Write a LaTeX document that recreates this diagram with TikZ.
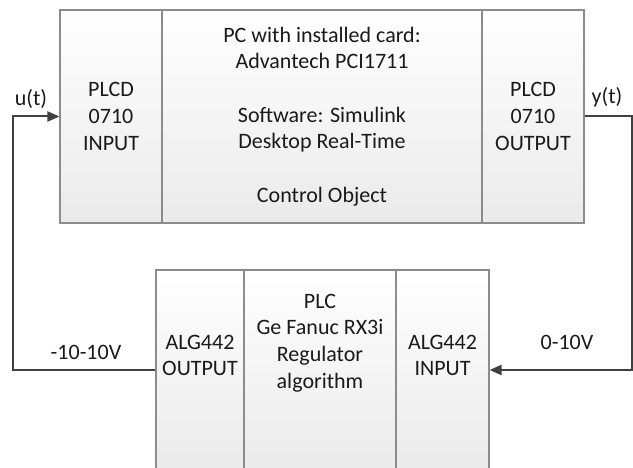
\documentclass[tikz,border=0pt]{standalone}
\usepackage{fontspec}
\setmainfont{Carlito}
\usetikzlibrary{arrows.meta}
\definecolor{boxgray}{HTML}{8C8C8C}
\definecolor{linegray}{HTML}{404040}
\definecolor{txt}{HTML}{1A1A1A}
\begin{document}
\begin{tikzpicture}[x=1pt,y=-1pt,
  blk/.style={draw=boxgray, line width=1.1pt, top color=white, bottom color=black!8,
    inner sep=0pt, align=center, text=txt, font=\fontsize{22}{26.7}\selectfont},
  lbl/.style={inner sep=0pt, align=center, text=txt, font=\fontsize{22}{26.7}\selectfont},
  conn/.style={draw=linegray, line width=2pt},
  tip/.style={-{Triangle[length=12pt,width=10pt]}}
]
\useasboundingbox (0,0) rectangle (633,468);
\clip (0,0) rectangle (633,468);
% top group
\node[blk, minimum width=102, minimum height=213] (inL) at (111,116.5) {PLCD\\0710\\INPUT};
\node[blk, minimum width=320, minimum height=213] (pc) at (322,116.5)
  {PC with installed card:\\Advantech PCI1711\\[26.7pt]Software: Simulink\\Desktop Real-Time\\[26.7pt]Control Object};
\node[blk, minimum width=102, minimum height=213] (outR) at (533,116.5) {PLCD\\0710\\OUTPUT};
% bottom group
\node[blk, minimum width=88, minimum height=200] (aout) at (200,370) {};
\node[blk, minimum width=152, minimum height=200] (plc) at (320,370) {};
\node[blk, minimum width=93, minimum height=200] (ain) at (442.5,370) {};
\node[lbl] (aoutT) at (200,355.5) {ALG442\\OUTPUT};
\node[lbl] (plcT) at (320,343) {PLC\\Ge Fanuc RX3i\\Regulator\\algorithm};
\node[lbl] (ainT) at (442.5,355.5) {ALG442\\INPUT};
% connectors
\coordinate (lb) at (13,370);
\coordinate (lt) at (13,116.5);
\coordinate (rt) at (631.5,116.5);
\coordinate (rb) at (631.5,370);
\draw[conn,tip] (aout.west) -- (lb) -- (lt) -- (inL.west);
\draw[conn,tip] (outR.east) -- (rt) -- (rb) -- (ain.east);
% labels
\node[lbl] (ut) at (31,99) {u(t)};
\node[lbl] (yt) at (607,97) {y(t)};
\node[lbl] (vneg) at (86,352) {-10-10V};
\node[lbl] (vpos) at (567,342) {0-10V};
\end{tikzpicture}
\end{document}
